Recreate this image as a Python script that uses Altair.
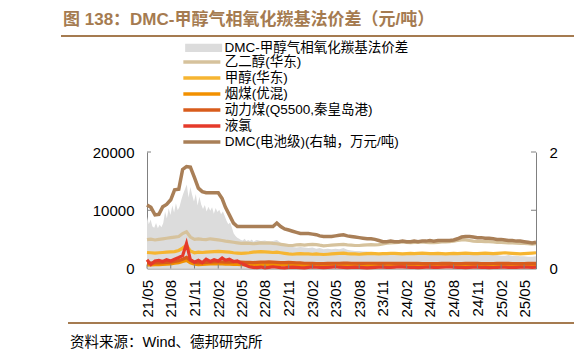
import altair as alt
import pandas as pd

# ---------------- data ----------------
dates = []
for yy in range(2021, 2026):
    for mm in range(1, 13):
        if (yy == 2021 and mm < 5) or (yy == 2025 and mm > 6):
            continue
        for dd in (1, 16):
            dates.append(f"{yy}/{mm:02d}/{dd:02d}")

# spread: weekly until 2022-06, then semi-monthly
spread_dates = list(pd.date_range("2021-05-01", periods=61, freq="7D").strftime("%Y/%m/%d")) + dates[28:]

series_names = [
    "乙二醇(华东)",
    "甲醇(华东)",
    "烟煤(优混)",
    "动力煤(Q5500,秦皇岛港)",
    "液氯",
    "DMC(电池级)(右轴，万元/吨)",
]
area_name = "DMC-甲醇气相氧化羰基法价差"

spread = [
    8900, 7600, 8400, 7200,
    7000, 7800, 6900, 7500, 7100,
    7800, 9800, 8600, 10300,
    9200, 10800, 9600, 11200, 10000,
    10600, 11800, 12800, 13600,
    14400, 12200, 14000, 12600,
    11500, 12800, 10800, 12300, 11000,
    10200, 10900, 9800, 10600,
    9900, 10500, 9400, 10400, 9700,
    10100, 9300, 9800, 9000,
    8200, 7600, 7900, 7000,
    6000, 5600, 5300, 5100, 4900,
    4800, 5100, 4700, 4900,
    4700, 5000, 4600, 4800,
    # semi-monthly from 2022-07
    4900, 4700,
    4800, 4600, 4700, 4900, 4400, 4100, 3800, 3700, 3600, 3700,
    3600, 3500, 3600, 3400, 3500, 3300, 3400, 3300, 3400, 3300,
    3500, 3200, 3100, 3000, 3000, 2900, 2900, 2800, 2700, 2600,
    2500, 2500, 2400, 2500, 2400, 2500, 2400, 2300, 2400, 2300,
    2400, 2300, 2400, 2300, 2300, 2400, 2300, 2400, 2500, 2600,
    2700, 2800, 2700, 2600, 2500, 2500, 2400, 2400, 2300, 2300,
    2200, 2200, 2300, 2200, 2200, 2100, 2100, 2000, 2000, 2100,
]
eg = [
    4950, 5050, 4900, 5000, 5100, 5200, 5300, 5400, 5500, 6000,
    6300, 5400, 5000, 5100, 5000, 4950, 5100, 5000, 4900, 4800,
    4700, 4600, 4500, 4400, 4300, 4350, 4300, 4250, 4300, 4400,
    4350, 4400, 4300, 4250, 4150, 4050, 3950, 3950, 4050, 4100,
    4000, 4100, 4150, 4100, 4000, 3900, 3950, 4000, 4050, 4100,
    4150, 4050, 4000, 3950, 3950, 4000, 4050, 4100, 4050, 4100,
    4200, 4350, 4400, 4450, 4500, 4550, 4500, 4450, 4500, 4500,
    4550, 4500, 4450, 4450, 4500, 4550, 4550, 4600, 4700, 4800,
    4900, 4900, 4800, 4700, 4650, 4650, 4600, 4600, 4550, 4500,
    4500, 4450, 4400, 4400, 4350, 4300, 4300, 4250, 4200, 4250,
]
methanol = [
    2750, 2700, 2650, 2700, 2750, 2800, 2850, 2900, 3100, 3500,
    4000, 3000, 2700, 2800, 2750, 2800, 2850, 2900, 2950, 2900,
    2850, 2800, 2700, 2650, 2600, 2650, 2700, 2800, 2850, 2900,
    2850, 2800, 2750, 2800, 2700, 2600, 2500, 2450, 2500, 2550,
    2500, 2500, 2450, 2500, 2450, 2400, 2450, 2500, 2550, 2600,
    2650, 2550, 2500, 2500, 2450, 2500, 2550, 2600, 2550, 2500,
    2550, 2550, 2600, 2600, 2550, 2500, 2550, 2600, 2550, 2600,
    2650, 2600, 2550, 2550, 2600, 2550, 2500, 2550, 2600, 2550,
    2600, 2650, 2600, 2550, 2550, 2600, 2650, 2600, 2550, 2600,
    2650, 2700, 2650, 2600, 2550, 2500, 2550, 2600, 2650, 2700,
]
coal_bit = [
    600, 620, 650, 680, 700, 750, 800, 900, 1000, 1200,
    1400, 1000, 750, 650, 700, 750, 800, 800, 800, 780,
    760, 740, 720, 700, 680, 660, 650, 640, 650, 660,
    660, 680, 660, 640, 620, 600, 600, 580, 560, 550,
    540, 530, 520, 520, 510, 500, 510, 520, 520, 510,
    520, 520, 510, 500, 500, 490, 500, 510, 500, 490,
    490, 500, 500, 490, 480, 490, 500, 500, 490, 480,
    480, 480, 470, 470, 480, 490, 500, 490, 480, 470,
    480, 490, 500, 500, 490, 480, 470, 470, 480, 490,
    500, 500, 490, 480, 470, 470, 480, 490, 500, 500,
]
coal_q5500 = [
    900, 920, 950, 980, 1000, 1050, 1100, 1200, 1350, 1600,
    1900, 1400, 1050, 950, 1000, 1050, 1100, 1150, 1150, 1150,
    1100, 1100, 1150, 1150, 1100, 1050, 1050, 1000, 1050, 1100,
    1100, 1150, 1100, 1050, 1000, 1000, 1050, 1000, 950, 950,
    900, 900, 880, 860, 850, 850, 880, 900, 900, 900,
    920, 920, 900, 900, 880, 880, 900, 900, 900, 880,
    880, 900, 900, 880, 870, 880, 890, 900, 880, 870,
    860, 860, 850, 850, 860, 870, 880, 870, 860, 850,
    860, 870, 880, 880, 870, 860, 850, 850, 860, 870,
    880, 880, 870, 860, 850, 850, 860, 870, 880, 880,
]
chlorine = [
    1500, 700, 1300, 1400, 1200, 1500, 1300, 1600, 1900, 2200,
    4300, 1500, 1100, 1400, 1000, 1600, 1200, 1500, 1300, 1800,
    1400, 1600, 1200, 1300, 900, 600, 300, 200, 150, 250,
    120, 180, 300, 220, 150, 100, 180, 250, 200, 150,
    120, 200, 280, 220, 180, 150, 200, 250, 300, 220,
    180, 150, 200, 250, 200, 150, 100, 150, 200, 250,
    220, 180, 200, 250, 300, 280, 220, 200, 180, 150,
    200, 250, 220, 200, 180, 220, 260, 300, 250, 200,
    180, 150, 200, 220, 250, 200, 180, 150, 170, 200,
    220, 250, 200, 180, 200, 220, 250, 230, 200, 220,
]
dmc = [
    1.09, 1.05, 0.92, 0.93, 1.06, 1.10, 1.18, 1.35, 1.36, 1.70,
    1.75, 1.74, 1.56, 1.38, 1.32, 1.30, 1.30, 1.30, 1.30, 1.20,
    1.05, 0.92, 0.78, 0.72, 0.72, 0.72, 0.72, 0.72, 0.72, 0.72,
    0.72, 0.72, 0.72, 0.78, 0.72, 0.68, 0.66, 0.64, 0.62, 0.60,
    0.60, 0.60, 0.59, 0.58, 0.56, 0.55, 0.55, 0.55, 0.56, 0.57,
    0.58, 0.56, 0.55, 0.54, 0.53, 0.52, 0.51, 0.51, 0.50, 0.48,
    0.46, 0.46, 0.47, 0.46, 0.46, 0.47, 0.46, 0.46, 0.47, 0.46,
    0.47, 0.47, 0.48, 0.47, 0.48, 0.48, 0.48, 0.48, 0.49, 0.51,
    0.54, 0.55, 0.55, 0.54, 0.53, 0.53, 0.52, 0.52, 0.51, 0.50,
    0.50, 0.49, 0.48, 0.48, 0.47, 0.47, 0.46, 0.45, 0.44, 0.45,
]

tick_labels = ["21/05", "21/08", "21/11", "22/02", "22/05", "22/08", "22/11",
               "23/02", "23/05", "23/08", "23/11", "24/02", "24/05", "24/08",
               "24/11", "25/02", "25/05"]
left_ticks = [10000, 20000]
right_ticks = [1, 2]

title_text = "图 138：DMC-甲醇气相氧化羰基法价差（元/吨）"
source_text = "资料来源：Wind、德邦研究所"

# ---------------- styling ----------------
FONT = "Liberation Sans, Arial, Noto Sans CJK SC"
BROWN = "#A57B50"
colors = ["#D6C29C", "#F6B531", "#F29000", "#D85C1C", "#E53A2A", "#A97F57"]
AXIS_C = "#808080"
W, H = 389, 116.5

area_df = pd.DataFrame({"date": spread_dates, "value": spread, "series": area_name})
left_df = pd.DataFrame({
    "date": dates * 5,
    "value": eg + methanol + coal_bit + coal_q5500 + chlorine,
    "series": sum([[n] * len(dates) for n in series_names[:5]], []),
})
dmc_df = pd.DataFrame({"date": dates, "value": dmc, "series": series_names[5]})
tick_dates = [f"20{t[:2]}/{t[3:]}/01" for t in tick_labels]
xt_df = pd.DataFrame({"d": tick_dates})
lt_df = pd.DataFrame({"v": left_ticks})
rt_df = pd.DataFrame({"v": right_ticks})

x_scale = alt.Scale(domain=[alt.DateTime(year=2021, month=5, date=1),
                            alt.DateTime(year=2025, month=6, date=16)])
x_axis = alt.Axis(
    values=[alt.DateTime(year=int("20" + t[:2]), month=int(t[3:]), date=1) for t in tick_labels],
    format="%y/%m", labelAngle=270, labelFontSize=15, labelFont=FONT,
    labelColor="black", labelPadding=11, ticks=False, domainColor=AXIS_C,
    grid=False, title=None, labelOverlap=False, labelBound=False, labelFlush=False,
)
yl_scale = alt.Scale(domain=[0, 20000], nice=False)
yl_axis = alt.Axis(values=[0, 10000, 20000], format="d", labelFontSize=15, labelFont=FONT,
                   labelColor="black", labelPadding=13, ticks=False, domainColor=AXIS_C,
                   grid=False, title=None)
yr_scale = alt.Scale(domain=[0, 2], nice=False)
yr_axis = alt.Axis(orient="right", values=[0, 1, 2], format="d", labelFontSize=15, labelFont=FONT,
                   labelColor="black", labelPadding=13, ticks=False, domainColor=AXIS_C,
                   grid=False, title=None)

X = alt.X("date:T", scale=x_scale, axis=x_axis)
stroke_scale = alt.Scale(domain=series_names, range=colors)
stroke_legend = alt.Legend(
    title=None, orient="none", legendX=48.1, legendY=-96.7, symbolType="M-4,0H4",
    symbolSize=85.6, symbolStrokeWidth=3.5, labelFontSize=13.5, labelFont=FONT,
    labelColor="black", labelOffset=16.2, rowPadding=1, padding=0, labelLimit=400,
)
fill_legend = alt.Legend(
    title=None, orient="none", legendX=49.9, legendY=-110.9,
    symbolType="M-4,-0.88H4V0.88H-4Z", symbolSize=85.6, symbolStrokeWidth=0,
    labelFontSize=13.5, labelFont=FONT, labelColor="black", labelOffset=14.2,
    padding=0, labelLimit=400,
)

area = alt.Chart(area_df).mark_area(opacity=1).encode(
    x=X,
    y=alt.Y("value:Q", scale=yl_scale, axis=yl_axis),
    fill=alt.Fill("series:N", scale=alt.Scale(domain=[area_name], range=["#DCDCDC"]),
                  legend=fill_legend),
)

left_lines = []
for n in series_names[:5]:
    left_lines.append(
        alt.Chart(left_df).transform_filter(alt.datum.series == n).mark_line(strokeWidth=3.2).encode(
            x=X,
            y=alt.Y("value:Q", scale=yl_scale, axis=yl_axis),
            stroke=alt.Stroke("series:N", scale=stroke_scale, legend=stroke_legend),
        )
    )

lticks = alt.Chart(lt_df).mark_rule(color=AXIS_C, strokeWidth=1).encode(
    y=alt.Y("v:Q", scale=yl_scale, axis=yl_axis), x=alt.value(0), x2=alt.value(4))
xticks = alt.Chart(xt_df).mark_rule(color=AXIS_C, strokeWidth=1).encode(
    x=alt.X("d:T", scale=x_scale, axis=x_axis), y=alt.value(H - 4), y2=alt.value(H))

dmc_line = alt.Chart(dmc_df).mark_line(strokeWidth=3.5).encode(
    x=X,
    y=alt.Y("value:Q", scale=yr_scale, axis=yr_axis),
    stroke=alt.Stroke("series:N", scale=stroke_scale, legend=stroke_legend),
)
rticks = alt.Chart(rt_df).mark_rule(color=AXIS_C, strokeWidth=1).encode(
    y=alt.Y("v:Q", scale=yr_scale, axis=yr_axis), x=alt.value(W - 5), x2=alt.value(W))

left = alt.layer(area, *left_lines, lticks, xticks)
right = alt.layer(dmc_line, rticks)

deco_df = pd.DataFrame({"t": [title_text]})
src_df = pd.DataFrame({"t": [source_text]})
title_mark = alt.Chart(deco_df).mark_text(
    align="left", baseline="middle", fontSize=17, fontWeight="bold", font=FONT, color=BROWN
).encode(text="t:N", x=alt.value(-84), y=alt.value(-132))
top_rule = alt.Chart(deco_df).mark_rule(color=BROWN, strokeWidth=2).encode(
    x=alt.value(-86), x2=alt.value(431), y=alt.value(-116))
bottom_rule = alt.Chart(deco_df).mark_rule(color=BROWN, strokeWidth=2).encode(
    x=alt.value(-79), x2=alt.value(431), y=alt.value(171))
src_mark = alt.Chart(src_df).mark_text(
    align="left", baseline="middle", fontSize=14.5, font=FONT, color="black"
).encode(text="t:N", x=alt.value(-77), y=alt.value(191))

chart = alt.layer(left, right, title_mark, top_rule, bottom_rule, src_mark).resolve_scale(
    y="independent"
).properties(
    width=W, height=H,
    padding={"left": 139, "top": 144, "right": 38, "bottom": 86},
    autosize=alt.AutoSizeParams(type="none"),
).configure_view(stroke=None)

chart.save("out.html", embed_options={"renderer": "svg", "actions": False})
